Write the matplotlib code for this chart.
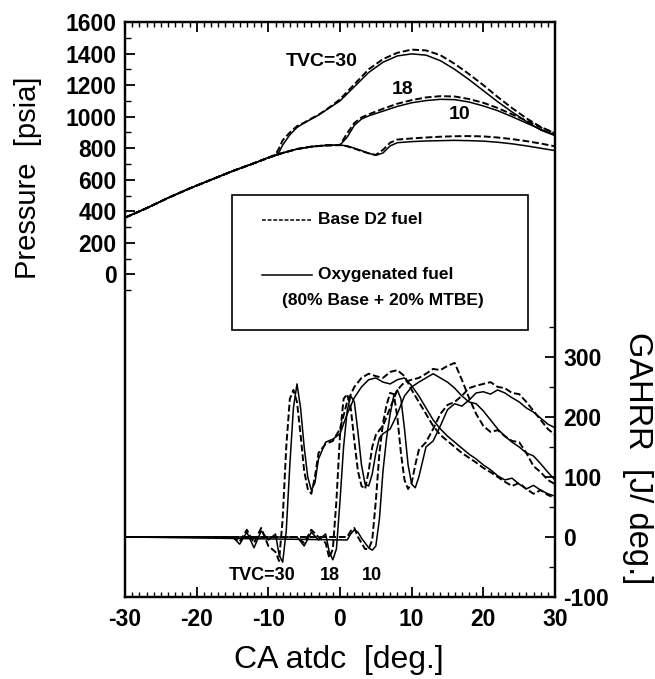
import numpy as np
import matplotlib
matplotlib.use("Agg")
import matplotlib.pyplot as plt
from matplotlib.patches import Rectangle
from matplotlib.lines import Line2D
from matplotlib.ticker import FixedLocator, MultipleLocator

plt.rcParams['font.family'] = ['Liberation Sans', 'DejaVu Sans']
plt.rcParams['axes.unicode_minus'] = False

# pressure [psia] -- common compression part
comp_x = [-30, -27, -24, -21, -18, -15, -12, -10]
comp_p = [360, 420, 485, 545, 600, 655, 705, 740]
comp2_x = [-8, -6, -4, -2]
comp2_p = [770, 795, 810, 818]

# TVC=30
p30_x = [-9, -8.5, -8, -7, -6, -5, -4, -3, -2, -1, 0, 2, 4, 6, 8, 10, 12, 14, 16, 18, 20, 22, 24, 26, 28, 30]
p30_base = [760, 800, 850, 900, 940, 962, 988, 1012, 1042, 1075, 1110, 1205, 1300, 1365, 1405, 1425, 1420, 1390, 1335, 1270, 1200, 1125, 1055, 990, 935, 895]
p30_oxy = [755, 775, 820, 885, 932, 960, 985, 1010, 1040, 1070, 1100, 1190, 1280, 1345, 1385, 1398, 1390, 1355, 1300, 1235, 1165, 1095, 1030, 970, 915, 880]

# TVC=18
p18_x = [0, 1, 2, 3, 4, 6, 8, 10, 12, 14, 16, 18, 20, 22, 24, 26, 28, 30]
p18_base = [820, 895, 960, 995, 1015, 1050, 1082, 1105, 1122, 1130, 1128, 1112, 1088, 1055, 1015, 975, 932, 895]
p18_oxy = [820, 870, 945, 985, 1005, 1035, 1065, 1088, 1102, 1110, 1108, 1093, 1068, 1038, 1000, 960, 920, 885]

# TVC=10
p10_x = [0, 1, 2, 3, 4, 5, 6, 7, 8, 10, 12, 14, 16, 18, 20, 22, 24, 26, 28, 30]
p10_base = [820, 812, 798, 782, 768, 758, 790, 835, 855, 862, 868, 873, 876, 877, 875, 868, 858, 845, 830, 812]
p10_oxy = [820, 815, 800, 785, 768, 755, 770, 815, 835, 842, 846, 848, 850, 848, 845, 838, 828, 815, 800, 785]

# GAHRR [J/deg]
h30_x = [-30, -15, -14, -13, -12, -11, -10, -9, -8.5, -8, -7.5, -7, -6.5, -6, -5.5, -5, -4.5, -4, -3.5, -3,
         -2, -1, 0, 1, 2, 3, 4, 5, 6, 7, 8, 9, 10,
         11, 12, 13, 14, 15, 16, 17, 18, 19, 20, 21, 22, 23, 24, 25, 26, 27, 28, 29, 30]
h30_oxy = [0, 0, -12, 8, -18, 10, -5, 5, -30, -42, 10, 120, 215, 255, 215, 150, 100, 78, 90, 130,
           158, 163, 172, 205, 232, 250, 262, 265, 258, 255, 262, 265, 252,
           235, 215, 195, 180, 168, 158, 148, 138, 130, 120, 112, 102, 95, 98, 88, 80, 86, 78, 72, 68]
h30_base = [0, 0, -8, 12, -10, 15, -15, -25, -40, 30, 150, 230, 245, 225, 170, 110, 80, 72, 100, 140,
            155, 160, 180, 225, 250, 265, 272, 268, 265, 275, 278, 268, 245,
            225, 205, 185, 170, 160, 150, 140, 132, 124, 115, 108, 100, 92, 85, 90, 80, 72, 78, 70, 65]

h18_x = [-30, -6, -5, -4, -3, -2, -1.5, -1, -0.5, 0,
         0.5, 1, 1.5, 2, 2.5, 3, 3.5, 4, 4.5, 5,
         5.5, 6, 7, 8, 9, 10, 11, 12, 13, 14,
         15, 16, 17, 18, 19, 20, 21, 22, 23, 24, 25, 26, 27, 28, 29, 30]
h18_oxy = [0, 0, -15, 8, -5, 5, -25, -38, -20, 60,
           150, 210, 235, 225, 175, 120, 88, 85, 105, 140,
           165, 172, 180, 205, 235, 250, 258, 265, 272, 265,
           258, 248, 235, 225, 222, 210, 195, 180, 168, 158, 150, 140, 135, 122, 108, 95]
h18_base = [0, 0, -10, 12, 0, -10, -35, -20, 60, 170,
            230, 238, 215, 160, 110, 85, 80, 110, 150, 170,
            178, 185, 215, 245, 258, 262, 265, 272, 280, 278,
            285, 290, 262, 232, 205, 185, 175, 178, 168, 160, 158, 140, 118, 108, 95, 88]

h10_x = [-30, 1, 1.5, 2, 2.5, 3, 3.5, 4, 4.5, 5,
         5.5, 6, 6.5, 7, 7.5, 8, 8.5, 9, 9.5, 10,
         10.5, 11, 12, 13, 14, 15, 16, 17, 18, 19, 20, 21, 22, 23, 24, 25, 26, 27, 28, 29, 30]
h10_oxy = [0, -5, 5, 12, 8, -2, -10, -18, -22, -15,
           30, 110, 165, 205, 235, 245, 230, 180, 120, 88,
           82, 100, 150, 160, 185, 212, 222, 218, 228, 240, 242, 238, 245, 240, 232, 225, 215, 208, 198, 188, 182]
h10_base = [0, 0, 10, 15, 0, -10, -20, -20, -5, 60,
            140, 190, 220, 240, 238, 200, 140, 95, 80, 90,
            120, 145, 158, 180, 205, 220, 225, 235, 248, 252, 255, 258, 250, 248, 240, 238, 225, 210, 195, 180, 170]

dash = (0, (3.5, 1.5))

fig = plt.figure(figsize=(6.55, 6.79), dpi=100)
ax = fig.add_axes([125 / 655, 1 - 597 / 679, 430 / 655, 575 / 679])
ax2 = ax.twinx()

# pressure
for px, pb, po in [(p30_x, p30_base, p30_oxy),
                   (p18_x, p18_base, p18_oxy),
                   (p10_x, p10_base, p10_oxy)]:
    cx = [v for v in comp_x + comp2_x if v < px[0]]
    cp = [p for v, p in zip(comp_x + comp2_x, comp_p + comp2_p) if v < px[0]]
    ax.plot(cx + px, cp + po, color='k', lw=1.1)
    ax.plot(cx + px, cp + pb, color='k', lw=1.4, ls=dash)

# heat release
for hx, hb, ho in [(h30_x, h30_base, h30_oxy), (h18_x, h18_base, h18_oxy), (h10_x, h10_base, h10_oxy)]:
    ax2.plot(hx, ho, color='k', lw=1.1)
    ax2.plot(hx, hb, color='k', lw=1.4, ls=dash)

ax.set_xlim(-30, 30)
ax.set_ylim(-2044, 1600)
ax2.set_ylim(-100, 858)

ax.xaxis.set_major_locator(MultipleLocator(10))
ax.xaxis.set_minor_locator(MultipleLocator(1))
ax.yaxis.set_major_locator(FixedLocator(list(range(0, 1601, 200))))
ax.yaxis.set_minor_locator(FixedLocator(list(range(-100, 1600, 100))))
ax2.yaxis.set_major_locator(FixedLocator(list(range(-100, 301, 100))))
ax2.yaxis.set_minor_locator(FixedLocator(list(range(-50, 351, 100))))

ax.tick_params(axis='x', which='both', direction='in', top=True, labelsize=16.5, pad=8)
ax.tick_params(axis='x', which='major', length=7, width=1.3)
ax.tick_params(axis='x', which='minor', length=3.5, width=1.0)
ax.tick_params(axis='y', which='both', direction='in', labelsize=16.5, pad=6)
ax.tick_params(axis='y', which='major', length=7, width=1.3)
ax.tick_params(axis='y', which='minor', length=4, width=1.0)
ax2.tick_params(axis='y', which='both', direction='in', labelsize=16.5, pad=6)
ax2.tick_params(axis='y', which='major', length=7, width=1.3)
ax2.tick_params(axis='y', which='minor', length=4, width=1.0)
for lab in ax.get_xticklabels() + ax.get_yticklabels() + ax2.get_yticklabels():
    lab.set_fontweight('bold')
for a in (ax, ax2):
    for s in a.spines.values():
        s.set_linewidth(1.6)

# curve labels
ax.text(-2.5, 1350, 'TVC=30', fontsize=14, fontweight='bold', ha='center', va='center')
ax.text(8.8, 1175, '18', fontsize=14, fontweight='bold', ha='center', va='center')
ax.text(16.7, 1016, '10', fontsize=14, fontweight='bold', ha='center', va='center')
ax2.text(-10.9, -65, 'TVC=30', fontsize=13, fontweight='bold', ha='center', va='center')
ax2.text(-1.4, -65, '18', fontsize=13, fontweight='bold', ha='center', va='center')
ax2.text(4.5, -65, '10', fontsize=13, fontweight='bold', ha='center', va='center')

# legend box
ax.add_patch(Rectangle((0.249, 0.464), 0.688, 0.236, transform=ax.transAxes,
                       fill=False, ec='k', lw=1.2, zorder=5))
ax.add_line(Line2D([0.319, 0.435], [0.656, 0.656], transform=ax.transAxes, color='k', lw=1.1, ls=(0, (2.5, 1.2))))
ax.add_line(Line2D([0.319, 0.435], [0.56, 0.56], transform=ax.transAxes, color='k', lw=1.1))
ax.text(0.45, 0.656, 'Base D2 fuel', transform=ax.transAxes, fontsize=12.5, fontweight='bold', va='center')
ax.text(0.45, 0.56, 'Oxygenated fuel', transform=ax.transAxes, fontsize=12.5, fontweight='bold', va='center')
ax.text(0.6, 0.515, '(80% Base + 20% MTBE)', transform=ax.transAxes, fontsize=12.5, fontweight='bold',
        ha='center', va='center')

# axis titles
fig.text(28 / 655, 1 - 178 / 679, 'Pressure  [psia]', rotation=90, fontsize=21, ha='center', va='center')
fig.text(637 / 655, 1 - 458 / 679, 'GAHRR  [J/ deg.]', rotation=-90, fontsize=23.5, ha='center', va='center')
fig.text(339 / 655, 1 - 660 / 679, 'CA atdc  [deg.]', fontsize=23, ha='center', va='center')

fig.savefig('out.png', dpi=100)
